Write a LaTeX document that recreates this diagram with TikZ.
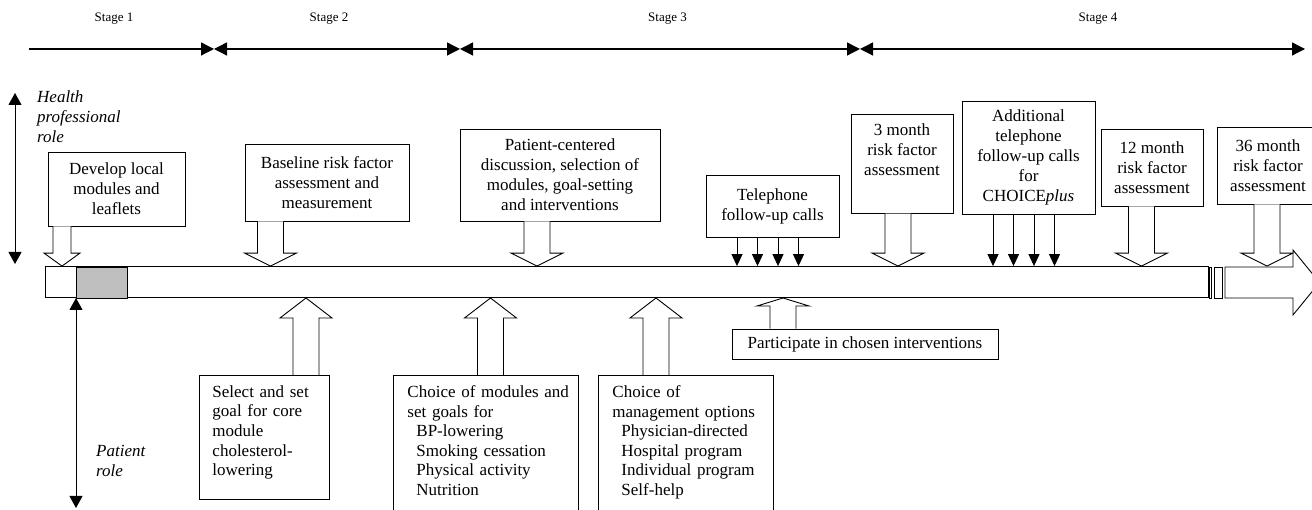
\documentclass[tikz,border=0pt]{standalone}
\usepackage{fontspec}
\setmainfont{Liberation Serif}
\usetikzlibrary{arrows.meta,calc}

\newcommand{\hollowarrow}[5]{%
  \coordinate (ax) at (#3,0);
  \draw[hollow] ($(#1 -| ax)+(-#5,0)$) -- ($(#2 -| ax)+(-#5,#4)$) -- ($(#2 -| ax)+(-2*#5,#4)$)
    -- (#2 -| ax) -- ($(#2 -| ax)+(2*#5,#4)$) -- ($(#2 -| ax)+(#5,#4)$) -- ($(#1 -| ax)+(#5,0)$);}

\begin{document}
\begin{tikzpicture}[x=1pt,y=1pt,
  box/.style={draw, line width=0.9pt, fill=white, align=center, inner sep=0pt, font=\fontsize{17}{20}\selectfont},
  topbox/.style={box, anchor=north, inner ysep=9pt},
  listbox/.style={draw, line width=0.9pt, fill=white, align=left, anchor=north west, inner xsep=13pt, inner ysep=10pt, font=\fontsize{17}{19.6}\selectfont},
  hollow/.style={draw, line width=0.9pt, fill=white},
  stageline/.style={line width=1.3pt, >={Triangle[length=13pt,width=13pt]}},
  roleline/.style={line width=1pt, >={Triangle[length=12pt,width=13pt]}},
  callarrow/.style={line width=0.9pt, -{Triangle[length=12pt,width=11pt]}},
  stagelabel/.style={font=\fontsize{13}{15}\selectfont},
  role/.style={font=\fontsize{17}{20}\selectfont\itshape, align=left, inner sep=0pt, anchor=west}]

  \useasboundingbox (0,0) rectangle (1312,510);

  \node[stagelabel] (st1) at (114,491) {Stage 1};
  \node[stagelabel] (st2) at (329,491) {Stage 2};
  \node[stagelabel] (st3) at (667.5,491) {Stage 3};
  \node[stagelabel] (st4) at (1098,491) {Stage 4};

  \coordinate (s0) at (29,461);
  \coordinate (s1) at (214,461);
  \coordinate (s2) at (460,461);
  \coordinate (s3) at (860,461);
  \coordinate (s4) at (1305,461);
  \draw[stageline,->] (s0) -- (s1);
  \draw[stageline,<->] (s1) -- (s2);
  \draw[stageline,<->] (s2) -- (s3);
  \draw[stageline,<->] (s3) -- (s4);

  \node[role] (hprole) at (37,393) {Health\\professional\\role};
  \node[role] (prole) at (96,49) {Patient\\role};

  \node[draw, line width=0.9pt, minimum width=1163pt, minimum height=31pt, anchor=south west, inner sep=0pt] (bar) at (45,212) {};
  \filldraw[fill=gray!50, line width=0.9pt] (76,212) rectangle (127,243);
  \draw[line width=0.9pt] (1209,212) rectangle (1211.5,243);
  \draw[line width=0.9pt] (1214,212) rectangle (1222,243);
  \draw[hollow] (1225,243) -- (1293,243) -- (1293,260) -- (1319.5,227.5) -- (1293,195) -- (1293,212) -- (1225,212) -- cycle;

  \coordinate (htop) at (15,417);
  \coordinate (hbot) at (15,246);
  \draw[roleline,<->] (htop) -- (hbot);
  \coordinate (pbot) at (76,2);
  \draw[roleline,<->] (bar.south -| pbot) -- (pbot);

  \node[box, minimum width=137pt, minimum height=74pt] (develop) at (116.5,321) {Develop local\\modules and\\leaflets};
  \node[box, minimum width=164pt, minimum height=77pt] (baseline) at (327,327.5) {Baseline risk factor\\assessment and\\measurement};
  \node[box, minimum width=200pt, minimum height=92pt] (discuss) at (560,335) {Patient-centered\\discussion, selection of\\modules, goal-setting\\and interventions};
  \node[box, minimum width=133pt, minimum height=62pt] (phone) at (772.5,304) {Telephone\\follow-up calls};
  \node[topbox, minimum width=102pt, text depth=29pt] (month3) at (902,396) {3 month\\risk factor\\assessment};
  \node[box, minimum width=133pt, minimum height=113pt] (extra) at (1028.5,352.5) {Additional\\telephone\\follow-up calls\\for\\CHOICE\textit{plus}};
  \node[box, minimum width=102pt, minimum height=77pt] (month12) at (1152,342.5) {12 month\\risk factor\\assessment};
  \node[box, minimum width=102pt, minimum height=77pt] (month36) at (1268,344.5) {36 month\\risk factor\\assessment};

  \node[listbox, text width=104pt, text depth=92.4pt] (coregoal) at (199,135) {Select and set\\goal for core\\module\\cholesterol-\\lowering};
  \node[listbox, inner xsep=14pt, text width=157pt, text depth=130pt] (modules) at (393,135) {\mbox{Choice of modules and}\\set goals for\\\hspace*{9pt}BP-lowering\\\hspace*{9pt}Smoking cessation\\\hspace*{9pt}Physical activity\\\hspace*{9pt}Nutrition};
  \node[listbox, inner xsep=14pt, text width=147pt, text depth=130pt] (options) at (598,135) {Choice of\\management options\\\hspace*{9pt}Physician-directed\\\hspace*{9pt}Hospital program\\\hspace*{9pt}Individual program\\\hspace*{9pt}Self-help};
  \node[box, minimum width=266pt, minimum height=30pt] (participate) at (865,166) {Participate in chosen interventions};

  \hollowarrow{develop.south}{bar.north}{62}{13}{9}
  \hollowarrow{baseline.south}{bar.north}{270.5}{13}{13}
  \hollowarrow{discuss.south}{bar.north}{537}{13}{13}
  \hollowarrow{month3.south}{bar.north}{898}{13}{13}
  \hollowarrow{month12.south}{bar.north}{1141.5}{13}{13}
  \hollowarrow{month36.south}{bar.north}{1267}{13}{13}
  \hollowarrow{coregoal.north}{bar.south}{306}{-20}{13}
  \hollowarrow{modules.north}{bar.south}{490.5}{-20}{13}
  \hollowarrow{options.north}{bar.south}{656}{-20}{13}
  \hollowarrow{participate.north}{bar.south}{783}{-8}{13}

  \foreach \d in {-35.5,-15,5.5,26}{
    \draw[callarrow] let \p1=([xshift=\d pt]phone.south), \p2=(bar.north) in (\p1) -- (\x1,\y2);
    \draw[callarrow] let \p1=([xshift=\d pt]extra.south), \p2=(bar.north) in (\p1) -- (\x1,\y2);
  }

\end{tikzpicture}
\end{document}
